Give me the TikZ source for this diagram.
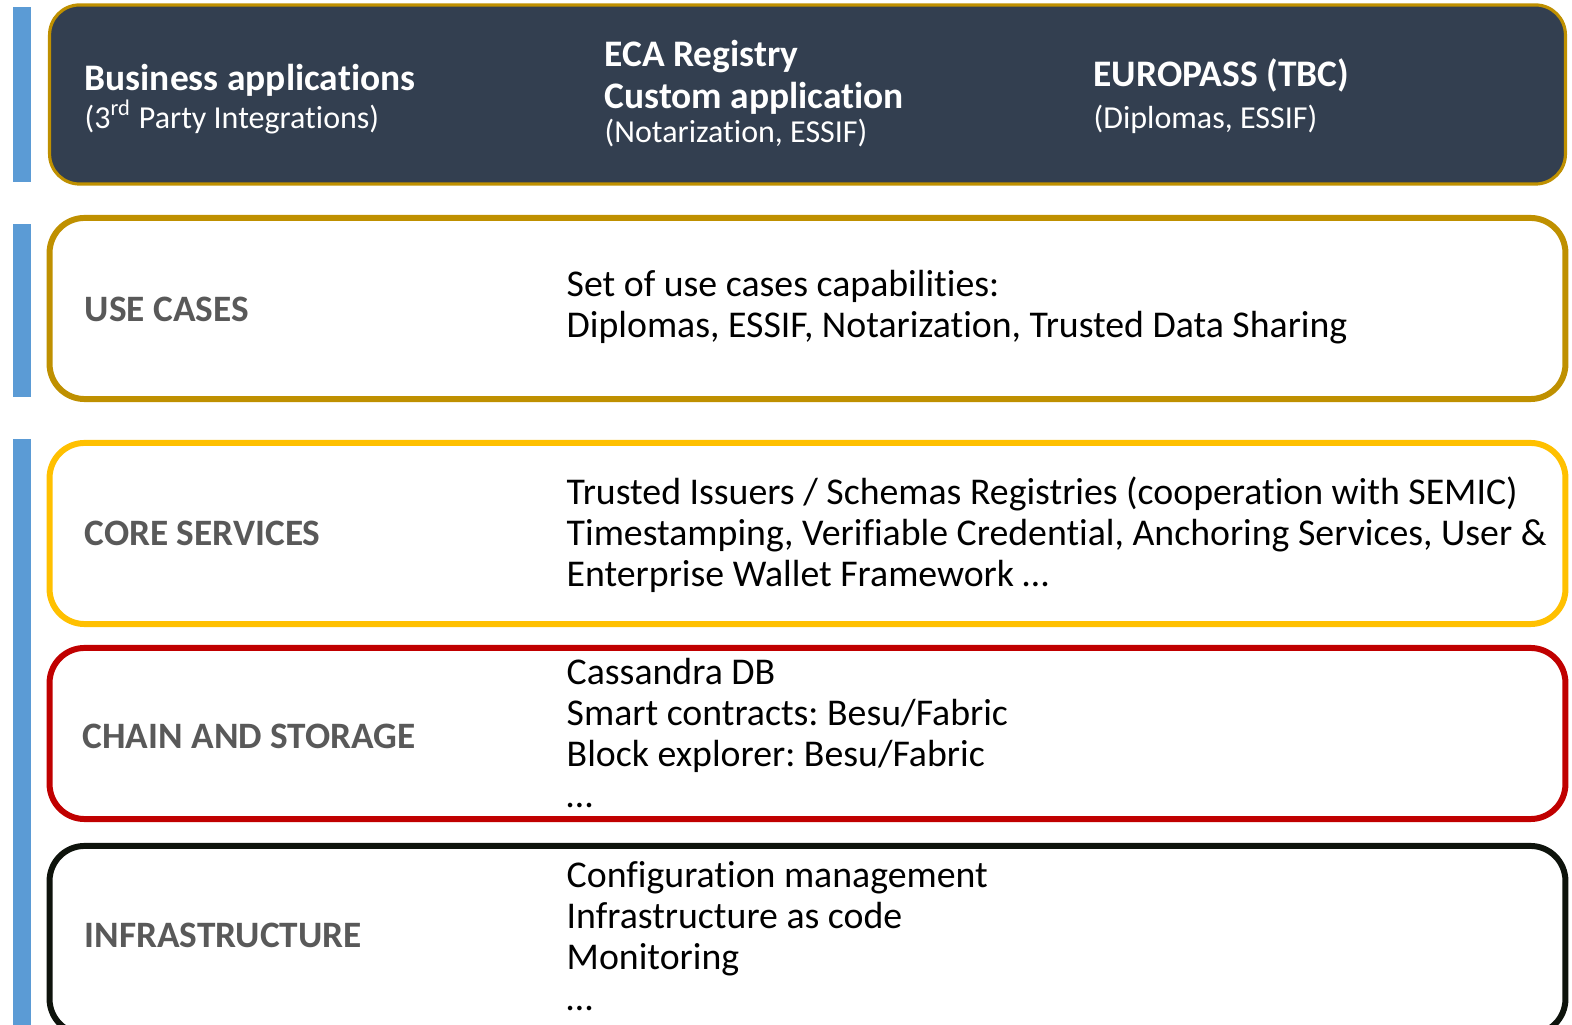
\documentclass[tikz,border=0pt]{standalone}
\usepackage{fontspec}
\setmainfont[Ligatures=NoCommon]{Carlito}
\usetikzlibrary{positioning}
\frenchspacing

\definecolor{navy}{HTML}{333F50}
\definecolor{gold}{HTML}{BF9000}
\definecolor{amber}{HTML}{FFC000}
\definecolor{crimson}{HTML}{C00000}
\definecolor{ink}{HTML}{0E130C}
\definecolor{barblue}{HTML}{5B9BD5}
\definecolor{labelgray}{HTML}{595959}

\begin{document}
\begin{tikzpicture}[
    x=0.01cm, y=-0.01cm,
    layer/.style={draw, rounded corners=0.35cm, line width=1.7pt,
      minimum width=15.15cm, inner sep=0pt},
    bar/.style={fill=barblue, draw=none, minimum width=0.18cm, inner sep=0pt},
    tag/.style={anchor=base west, inner sep=0pt, text=labelgray,
      font=\fontsize{10.6}{12}\selectfont\bfseries},
    body/.style={anchor=base west, inner sep=0pt, align=left,
      font=\fontsize{10.75}{11.7}\selectfont},
    apptitle/.style={anchor=base west, inner sep=0pt, align=left, text=white,
      font=\fontsize{10.65}{12.2}\selectfont\bfseries},
    appsub/.style={anchor=base west, inner sep=0pt, text=white,
      font=\fontsize{9.1}{11}\selectfont}
  ]
  \clip (0,0) rectangle (1572,1025);

  % side bars
  \node[bar, minimum height=1.75cm] (bartop) at (22,94.5) {};
  \node[bar, minimum height=1.73cm] (baruse) at (22,310.5) {};
  \node[bar, minimum height=5.95cm] (barlow) at (22,736.5) {};

  % layers
  \node[layer, draw=gold, fill=navy, line width=0.9pt, rounded corners=0.3cm,
    minimum height=1.79cm] (apps) at (807.5,94.5) {};
  \node[layer, draw=gold, minimum height=1.81cm] (usecases) at (807.5,308.5) {};
  \node[layer, draw=amber, minimum height=1.81cm] (core) at (807.5,533.5) {};
  \node[layer, draw=crimson, minimum height=1.71cm] (chain) at (807.5,733.5) {};
  \node[layer, draw=ink, minimum height=1.88cm] (infra) at (807.5,940) {};

  % business applications (base = last line)
  \node[apptitle] (biz) at (84,91) {Business applications};
  \node[appsub] (bizsub) at (84,129) {(3\textsuperscript{rd} Party Integrations)};
  \node[apptitle] (eca) at (604,109) {ECA Registry\\Custom application};
  \node[appsub] (ecasub) at (604,143) {(Notarization, ESSIF)};
  \node[apptitle] (europass) at (1093,87) {EUROPASS (TBC)};
  \node[appsub] (europasssub) at (1093,129) {(Diplomas, ESSIF)};

  % layer names
  \node[tag] (usetag) at (84,322) {USE CASES};
  \node[tag] (coretag) at (84,546) {CORE SERVICES};
  \node[tag] (chaintag) at (82,749) {CHAIN AND STORAGE};
  \node[tag] (infratag) at (84,948) {INFRASTRUCTURE};

  % layer contents (base = last line)
  \node[body, font=\fontsize{10.75}{11.9}\selectfont] (usetext) at (566,338)
    {Set of use cases capabilities:\\
    Diplomas, ESSIF, Notarization, Trusted Data Sharing};
  \node[body] (coretext) at (566,587)
    {Trusted Issuers / Schemas Registries (cooperation with SEMIC)\\
    Timestamping, Verifiable Credential, Anchoring Services, User \&\\
    Enterprise Wallet Framework \dots};
  \node[body] (chaintext) at (566,808) {Cassandra DB\\
    Smart contracts: Besu/Fabric\\
    Block explorer: Besu/Fabric\\
    \dots};
  \node[body] (infratext) at (566,1011) {Configuration management\\
    Infrastructure as code\\
    Monitoring\\
    \dots};
\end{tikzpicture}
\end{document}
